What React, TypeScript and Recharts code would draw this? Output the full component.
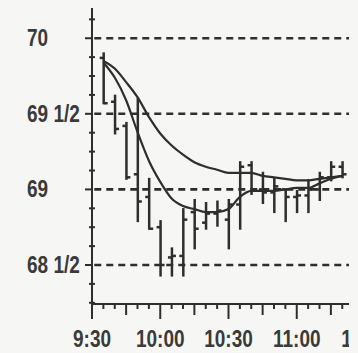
import { ComposedChart, Bar, Line, XAxis, YAxis, ReferenceLine } from 'recharts';

// time in minutes after midnight (9:35 = 575)
const times = [575, 580, 585, 590, 595, 600, 605, 610, 615, 620, 625, 630, 635, 640, 645, 650, 655, 660, 665, 670, 675, 680];
const highs = [69.9, 69.62, 69.44, 69.6, 69.07, 68.79, 68.61, 68.87, 68.93, 68.91, 68.92, 68.93, 69.18, 69.18, 69.11, 69.07, 68.99, 68.99, 69.06, 69.11, 69.18, 69.18];
const lows = [69.57, 69.37, 69.07, 68.79, 68.74, 68.43, 68.43, 68.43, 68.61, 68.74, 68.76, 68.61, 68.74, 68.97, 68.91, 68.85, 68.79, 68.85, 68.85, 68.93, 69.06, 69.08];
const opens = [69.87, 69.58, 69.42, 69.1, 68.95, 68.75, 68.55, 68.56, 68.85, 68.78, 68.84, 68.8, 68.9, 69.16, 69.0, 68.98, 69.0, 68.95, 68.96, 69.0, 69.08, 69.15];
const closes = [69.57, 69.4, 69.08, 68.92, 68.74, 68.5, 68.56, 68.8, 68.74, 68.84, 68.86, 68.9, 69.15, 69.0, 68.98, 69.02, 68.95, 68.96, 69.0, 69.08, 69.15, 69.1];
const fastAvg = [69.84, 69.74, 69.59, 69.38, 69.19, 69.05, 68.94, 68.89, 68.87, 68.85, 68.85, 68.87, 68.95, 68.99, 68.99, 68.99, 69.0, 69.01, 69.01, 69.04, 69.07, 69.09];
const slowAvg = [69.85, 69.8, 69.71, 69.61, 69.48, 69.37, 69.29, 69.23, 69.18, 69.15, 69.13, 69.11, 69.11, 69.11, 69.09, 69.08, 69.07, 69.06, 69.06, 69.07, 69.08, 69.09];

const xTicks = [570, 575, 580, 585, 590, 595, 600, 605, 610, 615, 620, 625, 630, 635, 640, 645, 650, 655, 660, 665, 670, 675, 680, 685, 690];
const xLabels: Record<number, string> = { 570: '9:30', 600: '10:00', 630: '10:30', 660: '11:00', 690: '11:30' };
const yTicks = [68.25, 68.375, 68.5, 68.625, 68.75, 68.875, 69, 69.125, 69.25, 69.375, 69.5, 69.625, 69.75, 69.875, 70, 70.125];
const yLabels: Record<string, string> = { '68.5': '68 1/2', '69': '69', '69.5': '69 1/2', '70': '70' };
const gridLevels = [70, 69.5, 69, 68.5];

const data = times.map((t, i) => ({
  t,
  high: highs[i],
  low: lows[i],
  open: opens[i],
  close: closes[i],
  fast: fastAvg[i],
  slow: slowAvg[i],
}));

const INK = '#2e2e2e';
const FONT = '"Liberation Sans", Arial, sans-serif';

function OhlcBar(props: any) {
  const { x, y, width, height, payload } = props;
  if (x == null || y == null) return null;
  const cx = x + width / 2;
  const top = Math.min(y, y + height);
  const bottom = Math.max(y, y + height);
  const span = payload.high - payload.low || 1;
  const at = (v: number) => top + ((payload.high - v) / span) * (bottom - top);
  return (
    <g stroke={INK} strokeWidth={2.5}>
      <line x1={cx} x2={cx} y1={top - 1} y2={bottom + 1} />
      <line x1={cx - 4} x2={cx} y1={at(payload.open)} y2={at(payload.open)} />
      <line x1={cx} x2={cx + 4} y1={at(payload.close)} y2={at(payload.close)} />
    </g>
  );
}

function TimeTick({ x, y, payload }: any) {
  const v = payload.value;
  const len = v % 30 === 0 ? 15 : v % 15 === 0 ? 11 : 5;
  return (
    <g>
      <line x1={x} x2={x} y1={y} y2={y + len} stroke={INK} strokeWidth={2} />
      {xLabels[v] && (
        <text transform={`translate(${x},${y + 43}) scale(1,1.25)`} textAnchor="middle" fill="#3a3a3a"
          style={{ fontFamily: FONT, fontSize: 19, fontWeight: 700 }}>
          {xLabels[v]}
        </text>
      )}
    </g>
  );
}

function PriceTick({ x, y, payload }: any) {
  const label = yLabels[String(payload.value)];
  return (
    <g>
      {label ? (
        <line x1={x - 7} x2={x} y1={y} y2={y} stroke={INK} strokeWidth={2} />
      ) : (
        <line x1={x - 3} x2={x + 3} y1={y} y2={y} stroke={INK} strokeWidth={2} />
      )}
      {label && (
        <text transform={`translate(${x - 65},${y + 8}) scale(1,1.25)`} textAnchor="start" fill="#3a3a3a"
          style={{ fontFamily: FONT, fontSize: 19, fontWeight: 700 }}>
          {label}
        </text>
      )}
    </g>
  );
}

export default function App() {
  return (
    <div style={{ position: 'absolute', left: 0, top: 0, width: 358, height: 353, background: '#f6f6f4' }}>
      <div style={{ width: 349, height: 353, overflow: 'hidden' }}>
        <ComposedChart width={380} height={353} data={data} margin={{ top: 8, right: 15, left: 0, bottom: 0 }}>
          <XAxis
            dataKey="t"
            type="number"
            domain={[570, 690]}
            ticks={xTicks}
            interval={0}
            height={49}
            tickSize={0}
            tickMargin={0}
            tickLine={false}
            axisLine={{ stroke: INK, strokeWidth: 2 }}
            tick={<TimeTick />}
          />
          <YAxis
            type="number"
            domain={[68.242, 70.2]}
            ticks={yTicks}
            interval={0}
            width={92}
            tickSize={0}
            tickMargin={0}
            tickLine={false}
            axisLine={{ stroke: INK, strokeWidth: 2 }}
            tick={<PriceTick />}
            allowDataOverflow
          />
          {gridLevels.map((g) => (
            <ReferenceLine
              key={g}
              segment={[{ x: 571, y: g }, { x: 684, y: g }]}
              stroke={INK}
              strokeWidth={2.6}
              strokeDasharray="7 5"
            />
          ))}
          <Bar dataKey={(d: any) => [d.low, d.high]} barSize={8} shape={<OhlcBar />} isAnimationActive={false} />
          <Line type="monotone" dataKey="slow" stroke={INK} strokeWidth={2.2} dot={false} isAnimationActive={false} />
          <Line type="monotone" dataKey="fast" stroke={INK} strokeWidth={2.2} dot={false} isAnimationActive={false} />
        </ComposedChart>
      </div>
    </div>
  );
}
